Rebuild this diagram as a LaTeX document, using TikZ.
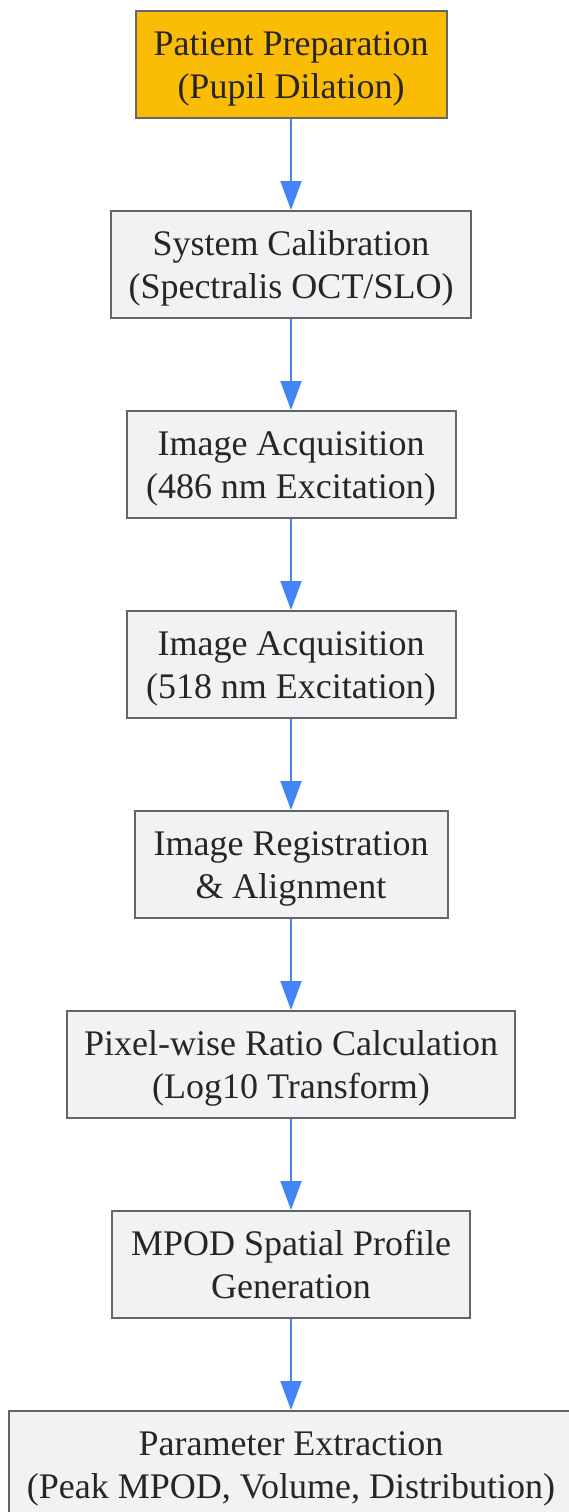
\documentclass[tikz,border=0pt]{standalone}
\usepackage{fontspec}
\setmainfont{Liberation Serif}
\usetikzlibrary{arrows.meta}

\definecolor{prepfill}{HTML}{FBBC05}
\definecolor{stepfill}{HTML}{F1F2F4}
\definecolor{stepline}{HTML}{666666}
\definecolor{flowblue}{HTML}{4285F4}

\tikzset{
	stepbox/.style={draw=stepline, line width=2pt, fill=stepfill, align=center,
		minimum height=107pt, inner sep=0pt, text=black!85,
		text height=78pt, text depth=10pt,
		font=\fontsize{36}{43}\selectfont},
	flow/.style={draw=flowblue, line width=2pt, -{Triangle[length=29pt, width=21pt]}}
}

\begin{document}
\begin{tikzpicture}[x=1pt, y=-1pt]
		\useasboundingbox (0, 0) rectangle (569, 1512);

		\node[stepbox, fill=prepfill, minimum width=311pt]	(prep)	at (291, 64.5)	{Patient Preparation\\(Pupil Dilation)};
		\node[stepbox, minimum width=360pt]	(calib)	at (291, 264.5)	{System Calibration\\(Spectralis OCT/SLO)};
		\node[stepbox, minimum width=329pt]	(acqa)	at (291, 464.5)	{Image Acquisition\\(486 nm Excitation)};
		\node[stepbox, minimum width=329pt]	(acqb)	at (291, 664.5)	{Image Acquisition\\(518 nm Excitation)};
		\node[stepbox, minimum width=313pt]	(reg)	at (291, 864.5)	{Image Registration\\\& Alignment};
		\node[stepbox, minimum width=448pt]	(ratio)	at (291, 1064.5)	{Pixel-wise Ratio Calculation\\(Log10 Transform)};
		\node[stepbox, minimum width=358pt]	(mpod)	at (291, 1264.5)	{MPOD Spatial Profile\\Generation};
		\node[stepbox, minimum width=564pt]	(param)	at (291, 1464.5)	{Parameter Extraction\\(Peak MPOD, Volume, Distribution)};

		\draw[flow]	(prep) to (calib);
		\draw[flow]	(calib) to (acqa);
		\draw[flow]	(acqa) to (acqb);
		\draw[flow]	(acqb) to (reg);
		\draw[flow]	(reg) to (ratio);
		\draw[flow]	(ratio) to (mpod);
		\draw[flow]	(mpod) to (param);
	\end{tikzpicture}
\end{document}
